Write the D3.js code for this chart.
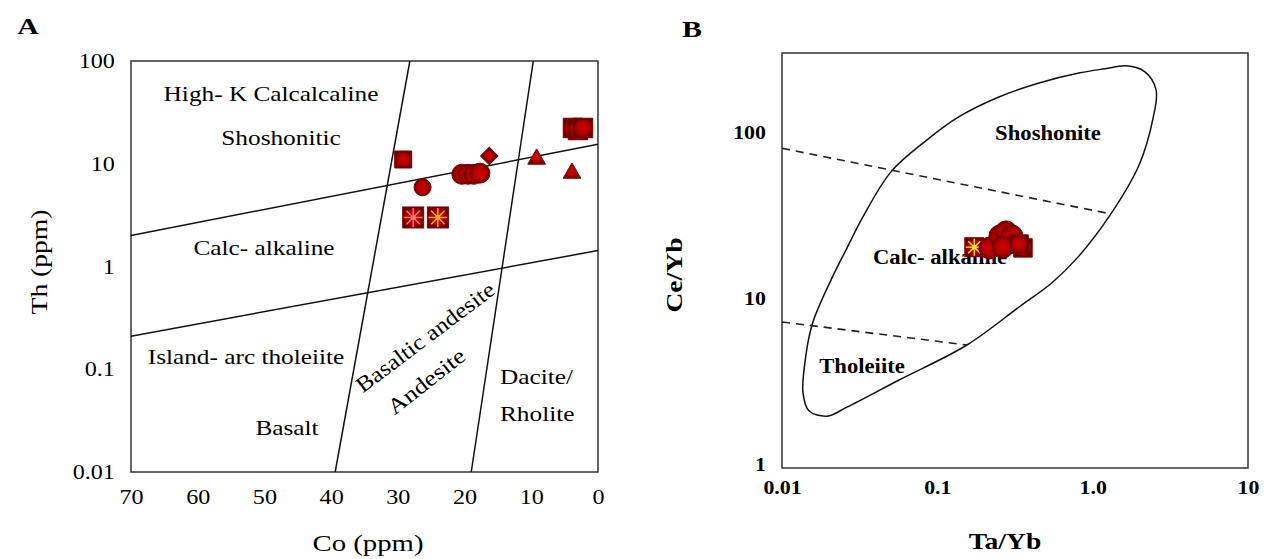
<!DOCTYPE html>
<html>
<head>
<meta charset="utf-8">
<script src="https://cdn.jsdelivr.net/npm/d3@7"></script>
<style>
  body { margin: 0; background: #fff; }
  text { font-family: 'Liberation Serif', 'Times New Roman', serif; fill: #000; }
</style>
</head>
<body>
<svg id="chart" width="1266" height="559"></svg>
<script>
// ---- panel A : Th vs Co ----
const coTicks = [70, 60, 50, 40, 30, 20, 10, 0];
const thTicks = [0.01, 0.1, 1, 10, 100];
const thTickLabels = ['0.01', '0.1', '1', '10', '100'];

// field boundaries [Co, Th]
const lineHighK = [[70, 2.0], [0, 15.5]];
const lineIAT = [[70, 0.21], [0, 1.43]];
const lineBasalt = [[39.4, 0.01], [28.2, 100]];
const lineDacite = [[19.0, 0.01], [9.7, 100]];

// samples [Co, Th]
const samplesSquare = [[29.2, 11.0], [3.75, 22.3], [3.0, 21.3], [2.25, 22.3]];
const samplesCircle = [[26.3, 5.9], [20.4, 7.9], [19.5, 7.9], [18.6, 7.9], [17.7, 8.1]];
const samplesDiamond = [[16.3, 11.9]];
const samplesTriangle = [[9.2, 11.1], [3.9, 8.1]];
const samplesStar = [[27.7, 3.0], [24.0, 3.0]];

// ---- panel B : Ce/Yb vs Ta/Yb ----
const taTicks = [0.01, 0.1, 1, 10];
const taTickLabels = ['0.01', '0.1', '1.0', '10'];
const ceTicks = [1, 10, 100];

// closed envelope [Ta/Yb, Ce/Yb]
const envelope = [
  [1.20, 241], [1.64, 251], [2.17, 231], [2.56, 180], [2.45, 122], [1.99, 63.5],
  [1.31, 32.2], [0.817, 18.0], [0.547, 12.4], [0.336, 8.86], [0.155, 5.23],
  [0.0567, 3.22], [0.0262, 2.21], [0.0195, 1.95], [0.0149, 2.10], [0.01365, 2.69],
  [0.01386, 3.70], [0.0156, 6.90], [0.0207, 12.9], [0.0258, 19.5], [0.0332, 30.9],
  [0.0503, 57.7], [0.0858, 89.9], [0.138, 124], [0.249, 163], [0.4515, 198], [0.829, 228]
];
const dashUpper = [[0.01, 80], [1.31, 32.2]];
const dashLower = [[0.01, 7.2], [0.155, 5.23]];

const bCircle = [[0.218, 20.1], [0.253, 23.7], [0.277, 25.1], [0.302, 23.7], [0.265, 20.4]];
const bSquare = [[0.356, 20.1], [0.336, 21.2]];
const bStar = [[0.173, 20.3]];

const SX = 1.15; // the figure is a bit stretched sideways

const svg = d3.select('#chart');

// gradient for the glossy red markers
const defs = svg.append('defs');
const grad = defs.append('radialGradient').attr('id', 'red');
grad.append('stop').attr('offset', '0%').attr('stop-color', '#d40000');
grad.append('stop').attr('offset', '65%').attr('stop-color', '#b00000');
grad.append('stop').attr('offset', '100%').attr('stop-color', '#6a0000');

function addText(g, str, x, y, o = {}) {
  g.append('text')
    .attr('transform', `translate(${x},${y}) rotate(${o.rotate || 0}) scale(${o.sx || SX},1)`)
    .attr('text-anchor', o.anchor || 'middle')
    .attr('dy', '0.35em')
    .style('font-size', (o.size || 22) + 'px')
    .style('font-weight', o.bold ? 'bold' : 'normal')
    .text(str);
}

function styleAxis(g, size, bold) {
  g.select('.domain').remove();
  g.selectAll('text')
    .attr('transform', `scale(${SX},1)`)
    .style('font-family', "'Liberation Serif','Times New Roman',serif")
    .style('font-size', size + 'px')
    .style('font-weight', bold ? 'bold' : 'normal')
    .attr('fill', '#000');
}

function marker(g, type, size, x, y) {
  const sym = { square: d3.symbolSquare, circle: d3.symbolCircle,
    triangle: d3.symbolTriangle, diamond: d3.symbolSquare }[type];
  g.append('path')
    .attr('d', d3.symbol(sym, size)())
    .attr('transform', `translate(${x},${y})` + (type === 'diamond' ? ' rotate(45)' : ''))
    .attr('fill', 'url(#red)')
    .attr('stroke', '#7a0000')
    .attr('stroke-width', 1);
}

function starSquare(g, side, x, y, ray) {
  const s = g.append('g').attr('transform', `translate(${x},${y})`);
  s.append('rect').attr('x', -side / 2).attr('y', -side / 2)
    .attr('width', side).attr('height', side)
    .attr('fill', 'url(#red)').attr('stroke', '#7a0000');
  d3.range(8).forEach(i => {
    const a = i * Math.PI / 4;
    s.append('line').attr('x1', 0).attr('y1', 0)
      .attr('x2', Math.cos(a) * side * 0.45).attr('y2', Math.sin(a) * side * 0.45)
      .attr('stroke', ray).attr('stroke-width', 1.4);
  });
  s.append('circle').attr('r', 2.5).attr('fill', ray);
}

// ================= panel A =================
const xA = d3.scaleLinear().domain([70, 0]).range([131, 598]);
const yA = d3.scaleLog().domain([0.01, 100]).range([472, 61]);
const gA = svg.append('g');
const lineA = d3.line().x(d => xA(d[0])).y(d => yA(d[1]));

gA.append('rect')
  .attr('x', xA(70)).attr('y', yA(100))
  .attr('width', xA(0) - xA(70)).attr('height', yA(0.01) - yA(100))
  .attr('fill', 'none').attr('stroke', '#333').attr('stroke-width', 1.5);

[lineHighK, lineIAT, lineBasalt, lineDacite].forEach(l => {
  gA.append('path').attr('d', lineA(l))
    .attr('fill', 'none').attr('stroke', '#111').attr('stroke-width', 1.5);
});

const axAx = gA.append('g').attr('transform', `translate(0,${yA(0.01)})`)
  .call(d3.axisBottom(xA).tickValues(coTicks).tickSize(0).tickPadding(17));
styleAxis(axAx, 21, false);
const axAy = gA.append('g').attr('transform', `translate(${xA(70)},0)`)
  .call(d3.axisLeft(yA).tickValues(thTicks).tickSize(0).tickPadding(14)
    .tickFormat((d, i) => thTickLabels[i]));
styleAxis(axAy, 21, false);

addText(gA, 'High- K Calcalcaline', 271, 93);
addText(gA, 'Shoshonitic', 281, 137);
addText(gA, 'Calc- alkaline', 264, 247);
addText(gA, 'Island- arc tholeiite', 246, 356);
addText(gA, 'Basalt', 287, 427);
addText(gA, 'Dacite/', 500, 376, { anchor: 'start' });
addText(gA, 'Rholite', 500, 413, { anchor: 'start' });
addText(gA, 'Basaltic andesite', 425, 337, { rotate: -37, sx: 1.13 });
addText(gA, 'Andesite', 426, 381, { rotate: -38, sx: 1.18 });

addText(gA, 'Co (ppm)', 368, 543, { size: 23, sx: 1.25 });
addText(gA, 'Th (ppm)', 39, 262, { size: 23, rotate: -90, sx: 1.2 });
addText(gA, 'A', 28, 26, { size: 23, bold: true, sx: 1.3 });

samplesSquare.forEach((d, i) => marker(gA, 'square', i === 0 ? 289 : 380, xA(d[0]), yA(d[1])));
samplesCircle.forEach((d, i) => marker(gA, 'circle', i === 0 ? 227 : 314, xA(d[0]), yA(d[1])));
samplesDiamond.forEach(d => marker(gA, 'diamond', 150, xA(d[0]), yA(d[1])));
samplesTriangle.forEach(d => marker(gA, 'triangle', 135, xA(d[0]), yA(d[1])));
samplesStar.forEach((d, i) => starSquare(gA, 21, xA(d[0]), yA(d[1]), i === 0 ? '#ff7a6a' : '#ffb020'));

// ================= panel B =================
const xB = d3.scaleLog().domain([0.01, 10]).range([782, 1248]);
const yB = d3.scaleLog().domain([0.95, 300]).range([468, 53]);
const gB = svg.append('g');

gB.append('rect')
  .attr('x', xB(0.01)).attr('y', yB(300))
  .attr('width', xB(10) - xB(0.01)).attr('height', yB(0.95) - yB(300))
  .attr('fill', 'none').attr('stroke', '#333').attr('stroke-width', 1.5);

gB.append('path')
  .attr('d', d3.line().curve(d3.curveCatmullRomClosed)
    .x(d => xB(d[0])).y(d => yB(d[1]))(envelope))
  .attr('fill', 'none').attr('stroke', '#111').attr('stroke-width', 1.5);

[dashUpper, dashLower].forEach(l => {
  gB.append('path')
    .attr('d', d3.line().x(d => xB(d[0])).y(d => yB(d[1]))(l))
    .attr('fill', 'none').attr('stroke', '#222').attr('stroke-width', 1.6)
    .attr('stroke-dasharray', '8,6');
});

const axBx = gB.append('g').attr('transform', `translate(0,${yB(0.95)})`)
  .call(d3.axisBottom(xB).tickValues(taTicks).tickSize(0).tickPadding(13)
    .tickFormat((d, i) => taTickLabels[i]));
styleAxis(axBx, 19, true);
const axBy = gB.append('g').attr('transform', `translate(${xB(0.01)},0)`)
  .call(d3.axisLeft(yB).tickValues(ceTicks).tickSize(0).tickPadding(14)
    .tickFormat(d3.format('d')));
styleAxis(axBy, 19, true);

addText(gB, 'Shoshonite', 1048, 133, { size: 21, bold: true, sx: 1.08 });
addText(gB, 'Calc- alkaline', 873, 257, { size: 21, bold: true, anchor: 'start', sx: 1.08 });
addText(gB, 'Tholeiite', 862, 366, { size: 21, bold: true, sx: 1.08 });

addText(gB, 'Ta/Yb', 1005, 541, { size: 23, bold: true, sx: 1.2 });
addText(gB, 'Ce/Yb', 674, 275, { size: 23, bold: true, rotate: -90, sx: 1.2 });
addText(gB, 'B', 692, 29, { size: 23, bold: true, sx: 1.3 });

bStar.forEach(d => starSquare(gB, 19, xB(d[0]), yB(d[1]), '#ffe030'));
bCircle.forEach(d => marker(gB, 'circle', 380, xB(d[0]), yB(d[1])));
bSquare.forEach(d => marker(gB, 'square', 340, xB(d[0]), yB(d[1])));
</script>
</body>
</html>
